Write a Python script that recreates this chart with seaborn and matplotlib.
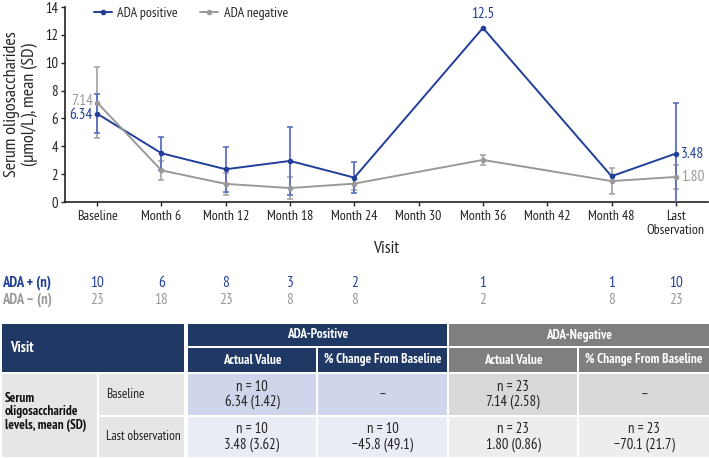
import numpy as np
import pandas as pd
import matplotlib.pyplot as plt
import seaborn as sns
from matplotlib.patches import Rectangle
import matplotlib.transforms as mtransforms

# 圖表數據
visits = ['Baseline', 'Month 6', 'Month 12', 'Month 18', 'Month 24', 'Month 30',
          'Month 36', 'Month 42', 'Month 48', 'Last\nObservation']
pos_idx = [0, 1, 2, 3, 4, 6, 8, 9]
pos_mean = [6.34, 3.50, 2.35, 2.95, 1.75, 12.5, 1.85, 3.48]
pos_sd = [1.42, 1.18, 1.63, 2.45, 1.12, np.nan, np.nan, 3.62]
neg_idx = [0, 1, 2, 3, 4, 6, 8, 9]
neg_mean = [7.14, 2.27, 1.30, 1.00, 1.32, 3.02, 1.50, 1.80]
neg_sd = [2.58, 0.68, 0.78, 0.80, 0.45, 0.33, 0.93, 0.86]
n_pos = ['10', '6', '8', '3', '2', '', '1', '', '1', '10']
n_neg = ['23', '18', '23', '8', '8', '', '2', '', '8', '23']

# 表格數據
tbl_groups = ['ADA-Positive', 'ADA-Negative']
tbl_subcols = ['Actual Value', '% Change From Baseline']
tbl_rowhead = 'Serum\noligosaccharide\nlevels, mean (SD)'
tbl_rows = ['Baseline', 'Last observation']
tbl_vals = [['n = 10\n6.34 (1.42)', '–', 'n = 23\n7.14 (2.58)', '–'],
            ['n = 10\n3.48 (3.62)', 'n = 10\n−45.8 (49.1)', 'n = 23\n1.80 (0.86)', 'n = 23\n−70.1 (21.7)']]

blue = '#213f99'
blue_err = '#5a6fc0'
grey = '#999999'
grey_err = '#a8a8a8'
navy = '#1f3864'
hgrey = '#7f7f7f'

sns.set_style('ticks')
plt.rcParams['font.family'] = ['PT Sans Narrow', 'Roboto Condensed', 'DejaVu Sans']

df = pd.concat([
    pd.DataFrame({'x': pos_idx, 'mean': pos_mean, 'sd': pos_sd, 'group': 'ADA positive'}),
    pd.DataFrame({'x': neg_idx, 'mean': neg_mean, 'sd': neg_sd, 'group': 'ADA negative'}),
])

fig = plt.figure(figsize=(7.09, 4.58), dpi=100)
ax = fig.add_axes([65 / 709, 1 - 202 / 458, 643 / 709, 195 / 458])

for g, col, ecol, z in [('ADA negative', grey, grey_err, 2), ('ADA positive', blue, blue_err, 3)]:
    d = df[df['group'] == g]
    ax.errorbar(d['x'], d['mean'], yerr=d['sd'], fmt='none', ecolor=ecol,
                elinewidth=1.3, capsize=2, capthick=1.2, zorder=z, clip_on=True)
sns.lineplot(data=df, x='x', y='mean', hue='group', hue_order=['ADA positive', 'ADA negative'],
             palette=[blue, grey], marker='o', markersize=4, markeredgewidth=0,
             linewidth=1.4, ax=ax, zorder=4)

ax.set_xlim(-0.5, 9.5)
ax.set_ylim(0, 14)
ax.set_yticks(range(0, 15, 2))
ax.set_xticks(range(len(visits)))
ax.set_xticklabels(visits, fontsize=10, linespacing=1.05)
ax.tick_params(axis='y', labelsize=10.5, length=3, width=1, colors='#222222', pad=2)
ax.tick_params(axis='x', length=3, width=1, colors='#222222', pad=3)
ax.set_xlabel('Visit', fontsize=12.5, labelpad=3)
ax.set_ylabel('Serum oligosaccharides\n(µmol/L), mean (SD)', fontsize=13, labelpad=5, linespacing=1.1)
for s in ['left', 'bottom']:
    ax.spines[s].set_linewidth(1.2)
    ax.spines[s].set_color('#222222')
sns.despine(ax=ax)

ax.legend(loc='upper left', bbox_to_anchor=(0.025, 1.065), ncol=2, frameon=False, fontsize=10,
          handlelength=1.3, columnspacing=1.6, handletextpad=0.4)

# 數值標註
ax.annotate('7.14', (0, 7.14), xytext=(-3, 1), textcoords='offset points', ha='right', va='center', color=grey, fontsize=11)
ax.annotate('6.34', (0, 6.34), xytext=(-3, -1), textcoords='offset points', ha='right', va='center', color=blue, fontsize=11)
ax.annotate('12.5', (6, 12.5), xytext=(0, 5), textcoords='offset points', ha='center', va='bottom', color=blue, fontsize=11)
ax.annotate('3.48', (9, 3.48), xytext=(4, 0), textcoords='offset points', ha='left', va='center', color=blue, fontsize=11)
ax.annotate('1.80', (9, 1.80), xytext=(4, 0), textcoords='offset points', ha='left', va='center', color=grey, fontsize=11)

# n 行
trans = mtransforms.blended_transform_factory(ax.transData, ax.transAxes)
for i in range(len(visits)):
    ax.text(i, -0.415, n_pos[i], transform=trans, ha='center', va='center', color=blue, fontsize=11, clip_on=False)
    ax.text(i, -0.503, n_neg[i], transform=trans, ha='center', va='center', color=grey, fontsize=11, clip_on=False)
fig.text(2 / 709, 1 - 283 / 458, 'ADA + (n)', ha='left', va='center', color=blue, fontsize=10.5, fontweight='bold')
fig.text(2 / 709, 1 - 300 / 458, 'ADA – (n)', ha='left', va='center', color=grey, fontsize=10.5, fontweight='bold')

# 表格 (像素座標)
tab = fig.add_axes([0, 0, 1, 1])
tab.set_xlim(0, 709)
tab.set_ylim(458, 0)
tab.axis('off')
tab.patch.set_visible(False)

def cell(x0, x1, y0, y1, fc):
    tab.add_patch(Rectangle((x0, y0), x1 - x0, y1 - y0, facecolor=fc, edgecolor='none'))

col_x = [(188, 316), (318, 447), (449, 577), (579, 709)]
hdr1 = (324, 346)
hdr2 = (348, 372)
body = [(374, 415), (417, 457)]

cell(2, 184, hdr1[0], hdr2[1], navy)
tab.text(10, (hdr1[0] + hdr2[1]) / 2, 'Visit', color='white', fontsize=10.5, fontweight='bold', ha='left', va='center')
for gi, (g, gc) in enumerate(zip(tbl_groups, [navy, hgrey])):
    a, b = col_x[2 * gi][0], col_x[2 * gi + 1][1]
    cell(a, b, hdr1[0], hdr1[1], gc)
    tab.text((a + b) / 2, sum(hdr1) / 2, g, color='white', fontsize=9.5, fontweight='bold', ha='center', va='center')
    for si, s in enumerate(tbl_subcols):
        c0, c1 = col_x[2 * gi + si]
        cell(c0, c1, hdr2[0], hdr2[1], gc)
        tab.text((c0 + c1) / 2, sum(hdr2) / 2, s, color='white', fontsize=9.5, fontweight='bold', ha='center', va='center')

cell(2, 97, body[0][0], body[1][1], '#e6e6e6')
tab.text(5, 412, tbl_rowhead, fontsize=9.5, fontweight='bold', ha='left', va='center', linespacing=1.1, color='#111111')
body_cols = [['#cfd5ea', '#cfd5ea', '#d9d9d9', '#d9d9d9'], ['#e9ebf5', '#e9ebf5', '#ededed', '#ededed']]
for ri, (r0, r1) in enumerate(body):
    cell(99, 184, r0, r1, '#e6e6e6')
    tab.text(106, (r0 + r1) / 2, tbl_rows[ri], fontsize=9.5, ha='left', va='center', color='#222222')
    for ci, (c0, c1) in enumerate(col_x):
        cell(c0, c1, r0, r1, body_cols[ri][ci])
        tab.text((c0 + c1) / 2, (r0 + r1) / 2, tbl_vals[ri][ci], fontsize=10.5, ha='center', va='center',
                 color='#222222', linespacing=1.05)

plt.savefig('out.png', dpi=100)
